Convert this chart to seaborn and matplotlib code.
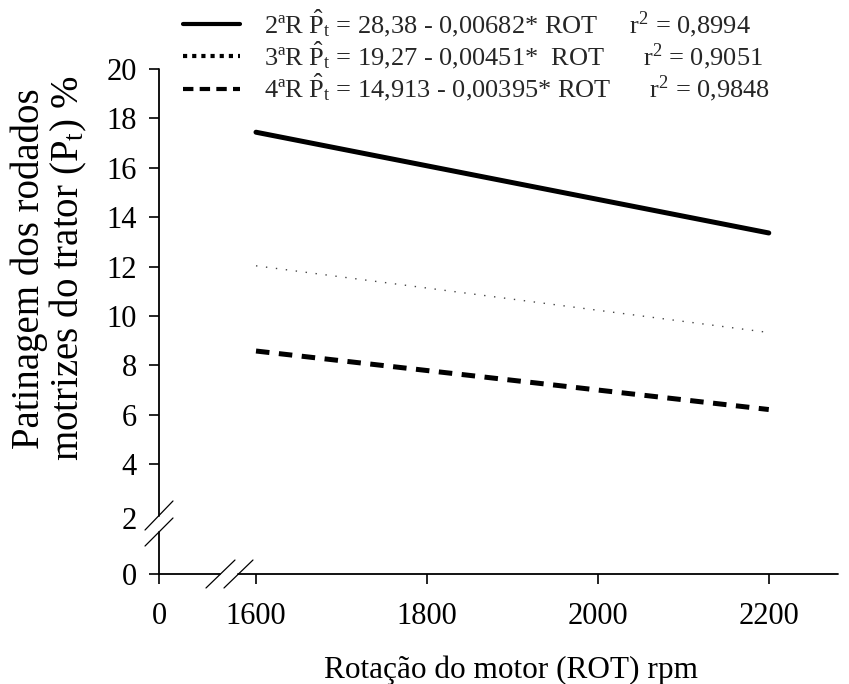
import matplotlib
matplotlib.use("Agg")
import matplotlib.pyplot as plt
from matplotlib.lines import Line2D
import seaborn as sns
import pandas as pd

# ---- data ----
rot = [1600, 2200]
pt_2R = [17.44, 13.36]
pt_3R = [12.03, 9.33]
pt_4R = [8.58, 6.21]

x_tick_labels = ["0", "1600", "1800", "2000", "2200"]
y_tick_labels = ["0", "2", "4", "6", "8", "10", "12", "14", "16", "18", "20"]

legend_labels = [
    r"2ªR $\hat{\mathrm{P}}_{\mathrm{t}}$ = 28,38 - 0,00682* ROT     r$^{2}$ = 0,8994",
    r"3ªR $\hat{\mathrm{P}}_{\mathrm{t}}$ = 19,27 - 0,00451*  ROT      r$^{2}$ = 0,9051",
    r"4ªR $\hat{\mathrm{P}}_{\mathrm{t}}$ = 14,913 - 0,00395* ROT      r$^{2}$ = 0,9848",
]

sns.set_theme(style="white")
plt.rcParams["font.family"] = ["Liberation Serif", "DejaVu Serif"]
plt.rcParams["mathtext.fontset"] = "custom"
plt.rcParams["mathtext.rm"] = "Liberation Serif"
plt.rcParams["mathtext.it"] = "Liberation Serif:italic"

fig = plt.figure(figsize=(8.49, 6.84), dpi=100)
L, R, T, B = 159, 838, 69, 574
ax = fig.add_axes([L / 849, 1 - B / 684, (R - L) / 849, (B - T) / 684])

df = pd.DataFrame({"rot": rot * 3,
                   "pt": pt_2R + pt_3R + pt_4R,
                   "serie": ["2R"] * 2 + ["3R"] * 2 + ["4R"] * 2})

sns.lineplot(data=df[df.serie == "2R"], x="rot", y="pt", ax=ax, color="black",
             lw=3.6, legend=False)
l3 = sns.lineplot(data=df[df.serie == "3R"], x="rot", y="pt", ax=ax, color="#444444",
                  lw=1.0, legend=False).lines[-1]
l3.set_dashes((1.0, 6.2))
l4 = sns.lineplot(data=df[df.serie == "4R"], x="rot", y="pt", ax=ax, color="black",
                  lw=3.6, legend=False).lines[-1]
l4.set_dashes((2.7, 1.9))
l4.set_dash_capstyle("butt")

x_zero = 1486.5
y_zero = -0.45
ax.set_xlim(x_zero, 2281)
ax.set_ylim(y_zero, 20)
ax.set_xticks([x_zero, 1600, 1800, 2000, 2200])
ax.set_xticklabels(x_tick_labels)
ax.set_yticks([y_zero, 1.8] + list(range(4, 21, 2)))
ax.set_yticklabels(y_tick_labels)
ax.tick_params(axis="both", which="both", direction="out", length=7, width=1.2,
               color="black", labelsize=22, labelcolor="black",
               bottom=True, left=True)
ax.tick_params(axis="y", pad=9)
ax.tick_params(axis="x", pad=13)
ax.yaxis.get_major_ticks()[1].tick1line.set_visible(False)

for s in ["top", "right", "left", "bottom"]:
    ax.spines[s].set_visible(False)

lk = dict(transform=ax.transAxes, clip_on=False, color="black", lw=1.3)
# left spine with break
ax.add_line(Line2D([0, 0], [0, 0.0832], **lk))
ax.add_line(Line2D([0, 0], [0.1158, 1], **lk))
# bottom spine with break
ax.add_line(Line2D([0, 0.0898], [0, 0], **lk))
ax.add_line(Line2D([0.1163, 1], [0, 0], **lk))
# break marks
bk = dict(transform=ax.transAxes, clip_on=False, color="black", lw=0.9)
ax.add_line(Line2D([-0.0206, 0.0206], [0.0871, 0.1446], **bk))
ax.add_line(Line2D([-0.0206, 0.0206], [0.0554, 0.1109], **bk))
ax.add_line(Line2D([0.0692, 0.1119], [-0.0277, 0.0277], **bk))
ax.add_line(Line2D([0.0957, 0.1384], [-0.0277, 0.0277], **bk))

ax.set_xlabel("Rotação do motor (ROT) rpm", fontsize=22.5, color="black")
ax.xaxis.set_label_coords(0.518, -0.162)
ax.set_ylabel("Patinagem dos rodados\nmotrizes do trator (P$_{\\mathrm{t}}$) %",
              fontsize=28, color="black", linespacing=1.0)
ax.yaxis.set_label_coords(-0.103, 0.605)

handles = [
    Line2D([], [], color="black", lw=3.0),
    Line2D([], [], color="black", lw=3.0, dashes=(1, 1.2)),
    Line2D([], [], color="black", lw=3.0, dashes=(2.5, 1.5)),
]
fig.legend(handles, legend_labels, loc="upper left", bbox_to_anchor=(178 / 849, 0.997),
           frameon=False, fontsize=19, handlelength=2.15, handletextpad=0.9,
           labelspacing=0.03, borderaxespad=0.0, borderpad=0.2)

fig.savefig("out.png", dpi=100)
